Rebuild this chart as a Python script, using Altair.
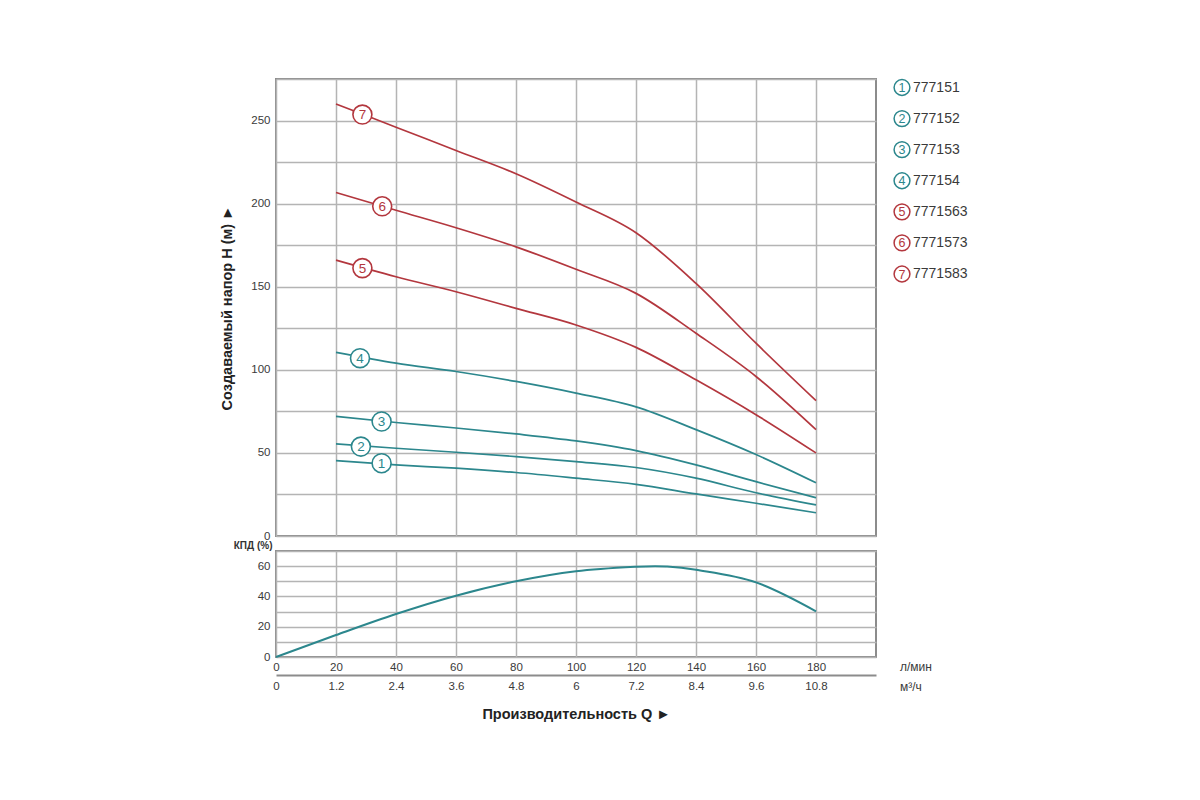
import altair as alt
import pandas as pd

# ---- data ----
Q = [20, 40, 60, 80, 100, 120, 140, 160, 180]           # л/мин
H1 = [45.4, 42.8, 40.8, 38.2, 34.8, 31.1, 25.3, 19.7, 14.0]
H2 = [55.4, 52.8, 50.4, 47.8, 44.8, 41.2, 34.8, 26.0, 18.7]
H3 = [72.0, 68.3, 65.0, 61.4, 57.2, 51.4, 42.8, 32.7, 23.0]
H4 = [110.5, 104.0, 99.0, 93.0, 86.0, 77.7, 64.0, 49.0, 32.0]
H5 = [166.0, 156.0, 147.0, 137.0, 127.0, 113.5, 94.0, 73.0, 50.0]
H6 = [206.7, 196.0, 185.5, 174.0, 160.5, 146.0, 122.0, 96.0, 64.0]
H7 = [260.0, 246.0, 232.0, 218.0, 201.0, 182.5, 152.0, 116.0, 81.5]

names = ["777151", "777152", "777153", "777154", "7771563", "7771573", "7771583"]
numbers = ["1", "2", "3", "4", "5", "6", "7"]
colors = ["#2c878d", "#2c878d", "#2c878d", "#2c878d", "#b3373e", "#b3373e", "#b3373e"]

label_q = [35.2, 28.3, 35.2, 28.0, 28.8, 35.4, 28.8]
label_h = [43.8, 53.8, 68.9, 107.0, 161.2, 198.4, 253.6]

QE = [0, 20, 40, 60, 80, 100, 120, 130, 140, 160, 180]
EFF = [0, 14.5, 28.4, 40.5, 50.0, 56.6, 59.6, 59.8, 57.6, 49.3, 30.2]

x_lmin_ticks = [0, 20, 40, 60, 80, 100, 120, 140, 160, 180]
x_m3h_ticks = [0, 1.2, 2.4, 3.6, 4.8, 6, 7.2, 8.4, 9.6, 10.8]
h_ticks = [0, 25, 50, 75, 100, 125, 150, 175, 200, 225, 250, 275]
e_ticks = [0, 10, 20, 30, 40, 50, 60, 70]

# ---- tables ----
series = [H1, H2, H3, H4, H5, H6, H7]
rows = []
for nm, hs in zip(names, series):
    for q, h in zip(Q, hs):
        rows.append({"name": nm, "Q": q, "H": h})
df_lines = pd.DataFrame(rows)
df_labels = pd.DataFrame({"name": names, "num": numbers, "Q": label_q, "H": label_h})
df_leg = pd.DataFrame({"name": names, "num": numbers})
df_eff = pd.DataFrame({"Q": QE, "E": EFF})

FONT = "Liberation Sans"
TXT = "#3a3a3a"
color_scale = alt.Scale(domain=names, range=colors)

xq = alt.X("Q:Q", scale=alt.Scale(domain=[0, 200], nice=False, zero=False),
           axis=alt.Axis(values=x_lmin_ticks, labels=False, ticks=False, domain=False,
                         title=None, grid=True))
yh = alt.Y("H:Q", scale=alt.Scale(domain=[0, 275], nice=False),
           axis=alt.Axis(values=h_ticks, labelExpr="datum.value % 50 === 0 ? datum.label : ''",
                         ticks=False, domain=False, labelPadding=6, labelFontSize=11.5,
                         labelFlush=False,
                         title="Создаваемый напор H (м) ►", titleFontSize=14.5,
                         titleFontWeight="bold", titlePadding=16, titleColor="#222"))

lines = alt.Chart(df_lines).mark_line(strokeWidth=1.7, interpolate="monotone").encode(
    x=xq, y=yh, color=alt.Color("name:N", scale=color_scale, legend=None))
circ = alt.Chart(df_labels).mark_circle(fill="white", opacity=1, size=360, strokeWidth=1.6).encode(
    x="Q:Q", y="H:Q", stroke=alt.Stroke("name:N", scale=color_scale, legend=None))
nums = alt.Chart(df_labels).mark_text(fontSize=13.5, font=FONT, baseline="middle", dy=0.5).encode(
    x="Q:Q", y="H:Q", text="num:N", color=alt.Color("name:N", scale=color_scale, legend=None))
inner = alt.layer(lines, circ, nums)

leg_y = alt.Y("name:N", scale=alt.Scale(type="point", domain=names, range=[8.5, 195], padding=0), axis=None)
leg_c = alt.Chart(df_leg).mark_circle(fill="white", opacity=1, size=250, strokeWidth=1.5).encode(
    x=alt.value(626), y=leg_y, stroke=alt.Stroke("name:N", scale=color_scale, legend=None))
leg_n = alt.Chart(df_leg).mark_text(fontSize=12.5, font=FONT, baseline="middle", dy=0.5).encode(
    x=alt.value(626), y=leg_y, text="num:N", color=alt.Color("name:N", scale=color_scale, legend=None))
leg_t = alt.Chart(df_leg).mark_text(fontSize=14, font=FONT, align="left", baseline="middle",
                                    color=TXT).encode(x=alt.value(637), y=leg_y, text="name:N")

top = alt.layer(inner, leg_c, leg_n, leg_t).resolve_scale(y="independent").properties(
    width=600, height=457)

# bottom: efficiency
xq2 = alt.X("Q:Q", scale=alt.Scale(domain=[0, 200], nice=False, zero=False),
            axis=alt.Axis(orient="bottom", values=x_lmin_ticks, ticks=False, domain=False,
                          labelPadding=4, labelFontSize=11.5, labelFlush=False,
                          title=None, grid=True))
ye = alt.Y("E:Q", scale=alt.Scale(domain=[0, 70], nice=False),
           axis=alt.Axis(values=e_ticks, labelExpr="datum.value % 20 === 0 ? datum.label : ''",
                         ticks=False, domain=False, labelPadding=6, labelFontSize=11.5,
                         labelFlush=False,
                         title="КПД (%)", titleAngle=0, titleAlign="right", titleBaseline="middle",
                         titleX=-4, titleY=-6, titleFontSize=10, titleFontWeight="bold",
                         titleColor="#333"))
eff = alt.Chart(df_eff).mark_line(strokeWidth=2, interpolate="cardinal", color="#2c878d").encode(
    x=xq2, y=ye)

df_m3 = pd.DataFrame({"m": [0]})
m3axis = alt.Chart(df_m3).mark_point(opacity=0).encode(
    x=alt.X("m:Q", scale=alt.Scale(domain=[0, 12], nice=False, zero=False),
            axis=alt.Axis(orient="bottom", offset=18, values=x_m3h_ticks, format=".3~g",
                          ticks=False, domain=True, domainColor="#8c8c8c", domainWidth=2,
                          grid=False, labelPadding=5, labelFontSize=11.5, labelFlush=False,
                          title="Производительность Q ►", titleFontSize=14.5,
                          titleFontWeight="bold", titlePadding=16, titleColor="#222")))
u1 = alt.Chart(df_m3).mark_text(text="л/мин", align="left", baseline="middle", fontSize=12,
                                font=FONT, color=TXT).encode(x=alt.value(624), y=alt.value(116))
u2 = alt.Chart(df_m3).mark_text(text="м³/ч", align="left", baseline="middle", fontSize=12,
                                font=FONT, color=TXT).encode(x=alt.value(624), y=alt.value(136))

bottom = alt.layer(eff, m3axis, u1, u2).resolve_scale(x="independent").properties(
    width=600, height=106)

chart = alt.vconcat(top, bottom, spacing=-4).properties(
    padding={"left": 210, "top": 67, "right": 20, "bottom": 20},
    background="white",
).configure_view(stroke="#8c8c8c", strokeWidth=2).configure_axis(
    gridColor="#b4b4b4", gridWidth=1.5, labelColor=TXT, labelFont=FONT, titleFont=FONT
)

chart.save("out.html", embed_options={"renderer": "svg", "actions": False})
